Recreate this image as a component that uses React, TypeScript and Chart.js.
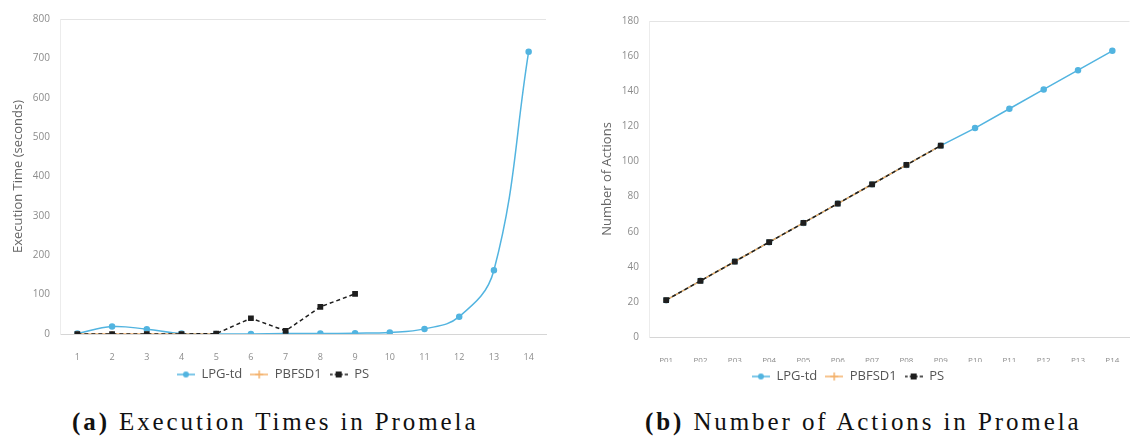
import { useEffect, useRef } from "react"
import { Chart, registerables } from "chart.js"

Chart.register(...registerables)

// (a) execution times, seconds
const problemNumbers = ["1", "2", "3", "4", "5", "6", "7", "8", "9", "10", "11", "12", "13", "14"]
const timeLpgTd = [1, 19, 12, 1, 0, 0, 1, 1, 2, 4, 13, 44, 162, 717]
const timePbfsd1 = [0, 0, 0, 0, 0, null, null, null, null, null, null, null, null, null]
const timePs = [0, 0, 0, 0, 1, 40, 8, 69, 102, null, null, null, null, null]

// (b) number of actions
const problemNames = ["P01", "P02", "P03", "P04", "P05", "P06", "P07", "P08", "P09", "P10", "P11", "P12", "P13", "P14"]
const actionsLpgTd = [21, 32, 43, 54, 65, 76, 87, 98, 109, 119, 130, 141, 152, 163]
const actionsPbfsd1 = [21, 32, 43, 54, 65, 76, 87, 98, 109, null, null, null, null, null]
const actionsPs = [21, 32, 43, 54, 65, 76, 87, 98, 109, null, null, null, null, null]

const BLUE = "#52b4e0"
const ORANGE = "#f4b06a"
const BLACK = "#1e1e1e"
const SANS = "'Open Sans', 'Liberation Sans', sans-serif"

// little line-with-marker swatch for the legend
function legendIcon(color: string, marker: "circle" | "cross" | "square", dashed: boolean) {
  const c = document.createElement("canvas")
  c.width = 18
  c.height = 10
  const g = c.getContext("2d")!
  g.strokeStyle = color
  g.fillStyle = color
  g.lineWidth = 1.5
  if (dashed) g.setLineDash([3, 2])
  g.beginPath()
  g.moveTo(0, 5)
  g.lineTo(18, 5)
  g.stroke()
  g.setLineDash([])
  if (marker === "circle") {
    g.beginPath()
    g.arc(9, 5, 3, 0, Math.PI * 2)
    g.fill()
  } else if (marker === "square") {
    g.fillRect(6, 2, 6, 6)
  } else {
    g.beginPath()
    g.moveTo(9, 1)
    g.lineTo(9, 9)
    g.moveTo(5, 5)
    g.lineTo(13, 5)
    g.stroke()
  }
  return c
}

interface PanelProps {
  labels: string[]
  lpg: (number | null)[]
  pbfsd: (number | null)[]
  ps: (number | null)[]
  max: number
  step: number
  title: string
  smooth: boolean
  axisWidth: number
  titleOffset: number
  xAxisHeight: number
  tickPad: number
  padding: { top: number; right: number; bottom: number }
  tickSize: number
}

function Panel(p: PanelProps) {
  const chartRef = useRef<HTMLCanvasElement>(null)
  const chartInstance = useRef<Chart | null>(null)

  useEffect(() => {
    if (!chartRef.current) return
    if (chartInstance.current) chartInstance.current.destroy()

    const icons = [
      legendIcon(BLUE, "circle", false),
      legendIcon(ORANGE, "cross", false),
      legendIcon(BLACK, "square", true),
    ]

    chartInstance.current = new Chart(chartRef.current, {
      type: "line",
      data: {
        labels: p.labels,
        datasets: [
          {
            label: "LPG-td",
            data: p.lpg,
            borderColor: BLUE,
            backgroundColor: BLUE,
            borderWidth: 1.5,
            pointRadius: 2.5,
            pointStyle: "circle",
            tension: p.smooth ? 0.4 : 0,
            order: 3,
          },
          {
            label: "PBFSD1",
            data: p.pbfsd,
            borderColor: ORANGE,
            backgroundColor: ORANGE,
            borderWidth: 1.5,
            pointRadius: 3,
            pointStyle: "cross",
            order: 2,
          },
          {
            label: "PS",
            data: p.ps,
            borderColor: BLACK,
            backgroundColor: BLACK,
            borderWidth: 1.5,
            borderDash: [4, 3],
            pointRadius: 3,
            pointStyle: "rect",
            order: 1,
          },
        ],
      },
      options: {
        responsive: true,
        maintainAspectRatio: false,
        animation: false,
        layout: { padding: { left: 0, ...p.padding } },
        plugins: {
          tooltip: { enabled: false },
          legend: {
            position: "bottom",
            labels: {
              usePointStyle: true,
              pointStyleWidth: 18,
              padding: 8,
              color: "#555",
              font: { family: SANS, size: 13 },
              sort: (a, b) => (a.datasetIndex ?? 0) - (b.datasetIndex ?? 0),
              generateLabels: (chart) =>
                chart.data.datasets.map((ds, i) => ({
                  text: ds.label as string,
                  pointStyle: icons[i],
                  fillStyle: "transparent",
                  strokeStyle: "transparent",
                  lineWidth: 0,
                  fontColor: "#555",
                  hidden: false,
                  datasetIndex: i,
                })),
            },
          },
        },
        scales: {
          x: {
            offset: true,
            grid: { display: false },
            border: { color: "#d6d6d6" },
            ticks: {
              color: "#8c8c8c",
              padding: p.tickPad,
              maxRotation: 0,
              autoSkip: false,
              font: { family: SANS, size: p.tickSize },
            },
            afterFit: (scale) => {
              scale.height = p.xAxisHeight
            },
          },
          y: {
            min: 0,
            max: p.max,
            grid: {
              drawTicks: false,
              color: (ctx) => (ctx.tick && ctx.tick.value === p.max ? "#e4e4e4" : "transparent"),
            },
            border: { color: "#ececec" },
            ticks: {
              stepSize: p.step,
              color: "#8c8c8c",
              padding: 10,
              font: { family: SANS, size: 10 },
            },
            title: {
              display: true,
              text: p.title,
              color: "#666",
              padding: { top: p.titleOffset, bottom: 0 },
              font: { family: SANS, size: 13 },
            },
            afterFit: (scale) => {
              scale.width = p.axisWidth
            },
          },
        },
      },
    })

    return () => {
      if (chartInstance.current) {
        chartInstance.current.destroy()
        chartInstance.current = null
      }
    }
  }, [p])

  return <canvas ref={chartRef} />
}

const captionStyle: React.CSSProperties = {
  position: "absolute",
  top: 409,
  fontFamily: "'Liberation Serif', 'DejaVu Serif', serif",
  fontSize: 25,
  lineHeight: "25px",
  letterSpacing: "2.9px",
  color: "#111",
  whiteSpace: "nowrap",
}

const leftPanel: PanelProps = {
  labels: problemNumbers,
  lpg: timeLpgTd,
  pbfsd: timePbfsd1,
  ps: timePs,
  max: 800,
  step: 100,
  title: "Execution Time (seconds)",
  smooth: true,
  axisWidth: 60,
  titleOffset: 10,
  xAxisHeight: 26,
  tickPad: 10,
  padding: { top: 19, right: 19, bottom: 0 },
  tickSize: 9,
}

const rightPanel: PanelProps = {
  labels: problemNames,
  lpg: actionsLpgTd,
  pbfsd: actionsPbfsd1,
  ps: actionsPs,
  max: 180,
  step: 20,
  title: "Number of Actions",
  smooth: false,
  axisWidth: 84,
  titleOffset: 34,
  xAxisHeight: 25,
  tickPad: 11,
  padding: { top: 21, right: 4, bottom: 0 },
  tickSize: 8,
}

export default function App() {
  return (
    <div style={{ position: "absolute", left: 0, top: 0, width: 1135, height: 444, background: "#fff" }}>
      <div style={{ position: "absolute", left: 0, top: 0, width: 565, height: 391 }}>
        <Panel {...leftPanel} />
      </div>
      <div style={{ position: "absolute", left: 565, top: 0, width: 570, height: 393 }}>
        <Panel {...rightPanel} />
      </div>
      <div style={{ ...captionStyle, left: 72 }}>
        <b>(a)</b> Execution Times in Promela
      </div>
      <div style={{ ...captionStyle, left: 645 }}>
        <b>(b)</b> Number of Actions in Promela
      </div>
    </div>
  )
}
